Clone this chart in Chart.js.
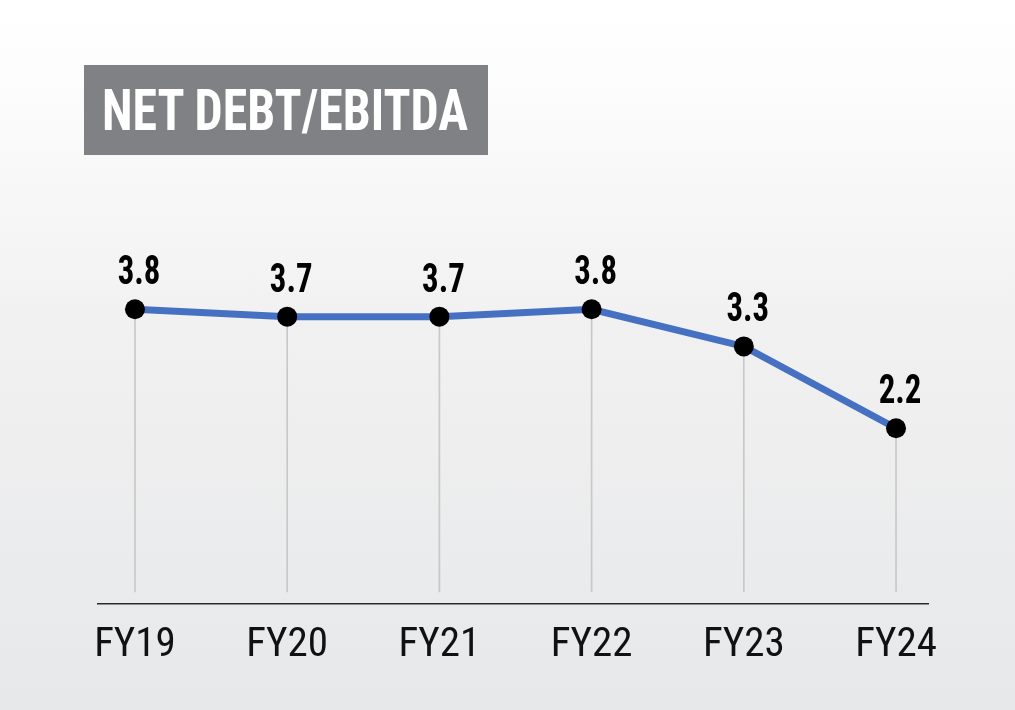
<!DOCTYPE html>
<html>
<head>
<meta charset="utf-8">
<script src="https://cdn.jsdelivr.net/npm/chart.js@4.4.1/dist/chart.umd.min.js"></script>
<style>
  html, body { margin: 0; padding: 0; }
  body {
    width: 1015px; height: 710px; overflow: hidden; position: relative;
    background: linear-gradient(to bottom, #ffffff 0%, #fdfdfd 10%, #f1f1f2 45%, #e7e8e9 100%);
    font-family: "Roboto Condensed", "Roboto", sans-serif;
  }
  #wrap { position: absolute; left: 0; top: 0; width: 1015px; height: 710px; }
  #title {
    position: absolute; left: 84px; top: 65px; width: 404px; height: 90px;
    background: #808184; color: #ffffff; z-index: 2; overflow: hidden;
  }
  #titleText {
    position: absolute; left: 18px; top: 1px; line-height: 90px;
    font-family: "Roboto Condensed", "Roboto", sans-serif;
    font-weight: bold; font-size: 57px; white-space: nowrap;
    transform-origin: 0 50%;
  }
</style>
</head>
<body>
<div id="title"><span id="titleText">NET DEBT/EBITDA</span></div>
<div id="wrap"><canvas id="c" width="1015" height="710"></canvas></div>
<script>
const categories = ["FY19", "FY20", "FY21", "FY22", "FY23", "FY24"];
const netDebtToEbitda = [3.8, 3.7, 3.7, 3.8, 3.3, 2.2];
const valueLabels = ["3.8", "3.7", "3.7", "3.8", "3.3", "2.2"];

const FONT = '"Roboto Condensed", "Roboto", sans-serif';

// fit the title text to the box width used in the reference
const tt = document.getElementById('titleText');
const tw = tt.getBoundingClientRect().width;
if (tw > 0) tt.style.transform = 'scaleX(' + (366 / tw) + ')';

const points = categories.map((c, i) => ({ x: i, y: netDebtToEbitda[i] }));

const labelPlugin = {
  id: 'valueLabels',
  afterDatasetsDraw(chart) {
    const meta = chart.getDatasetMeta(1);
    const ctx = chart.ctx;
    ctx.save();
    ctx.font = 'bold 40px ' + FONT;
    ctx.fillStyle = '#000000';
    ctx.textAlign = 'center';
    ctx.textBaseline = 'alphabetic';
    meta.data.forEach((pt, i) => {
      ctx.save();
      ctx.translate(pt.x + 4, pt.y - 25);
      ctx.scale(0.82, 1);
      ctx.fillText(valueLabels[i], 0, 0);
      ctx.restore();
    });
    ctx.restore();
  }
};

new Chart(document.getElementById('c'), {
  type: 'line',
  data: {
    datasets: [
      {
        type: 'bar',
        data: points,
        backgroundColor: '#c8c8c8',
        barThickness: 1,
        order: 2
      },
      {
        type: 'line',
        data: points,
        borderColor: '#4671c2',
        borderWidth: 7,
        pointRadius: 10,
        pointBackgroundColor: '#000000',
        pointBorderColor: '#000000',
        pointBorderWidth: 0,
        tension: 0,
        order: 1
      }
    ]
  },
  options: {
    responsive: false,
    animation: false,
    events: [],
    layout: { padding: { left: 98, right: 87, top: 220, bottom: 23 } },
    plugins: { legend: { display: false }, tooltip: { enabled: false } },
    scales: {
      x: {
        type: 'linear',
        offset: false,
        min: -0.243,
        max: 5.21,
        afterBuildTicks(scale) {
          scale.ticks = categories.map((c, i) => ({ value: i }));
        },
        ticks: {
          autoSkip: false,
          maxRotation: 0,
          padding: 17,
          color: '#111111',
          font: { family: FONT, size: 41 },
          callback: (v) => categories[v]
        },
        grid: { display: false, drawTicks: false },
        border: { display: true, color: '#2a2a2a', width: 1.5 }
      },
      y: {
        display: false,
        min: -0.16,
        max: 5
      }
    }
  },
  plugins: [labelPlugin]
});
</script>
</body>
</html>
